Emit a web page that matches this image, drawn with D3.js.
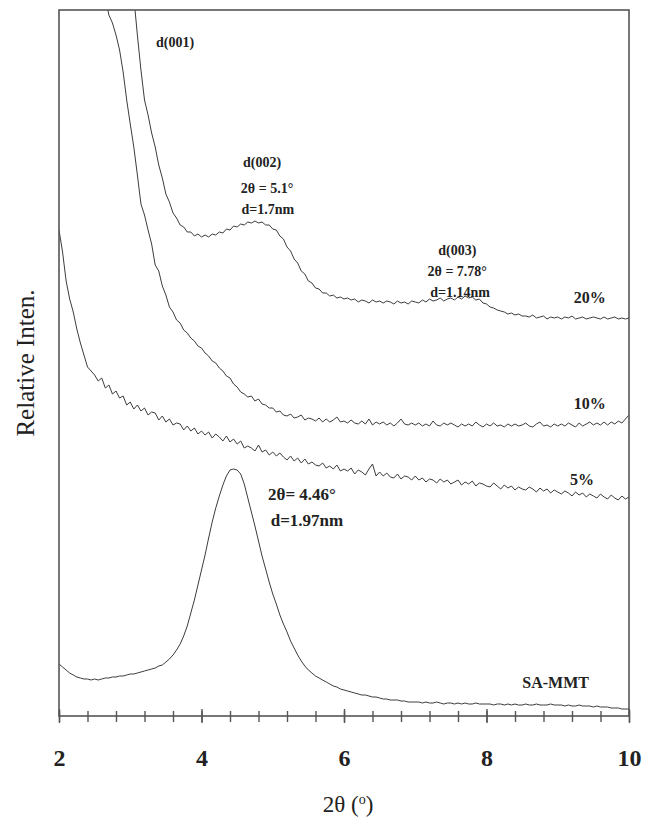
<!DOCTYPE html>
<html>
<head>
<meta charset="utf-8">
<script src="https://cdn.jsdelivr.net/npm/d3@7"></script>
<style>
    body { margin: 0; background: #fff; }
    svg { display: block; }
    .frame { fill: none; stroke: #555; stroke-width: 1.6; }
    .trace { fill: none; stroke: #3c3c3c; stroke-width: 1; stroke-linejoin: round; }
    .axis path { display: none; }
    .axis line { stroke: #555; stroke-width: 1.4; }
    .axis text { font-family: "Liberation Serif", "Times New Roman", serif; font-weight: bold; font-size: 24px; fill: #222; }
    .note { font-family: "Liberation Serif", "Times New Roman", serif; font-weight: bold; fill: #222; }
    .title { font-family: "Liberation Serif", "Times New Roman", serif; fill: #222; }
</style>
</head>
<body>
<div id="chart"></div>
<script>
// XRD scans, 2theta 2-10 deg, step 0.05 (161 points each), intensity in arbitrary units
var twoTheta = d3.range(161).map(function (i) { return 2 + i * 0.05; });

var saMmt = [
    50, 47, 44, 41, 39, 37, 36, 35, 35, 34, 35, 34, 35, 36, 36, 37, 37, 38, 38, 39, 40,
    40, 41, 42, 43, 44, 45, 46, 48, 49, 52,
    55, 59, 64, 70, 78, 88, 101, 114, 129, 144,
    159, 176, 192, 206, 218, 229, 238, 244, 245, 244,
    240, 230, 216, 202, 188, 173, 158, 145, 132, 120,
    110, 99, 90, 82, 73, 66, 59, 53, 48, 44,
    41, 38, 36, 34, 32, 30, 28, 27, 25, 24,
    23, 22, 21, 20, 19, 19, 18, 17, 17, 16,
    15, 15, 14, 14, 14, 13, 13, 12, 12, 12,
    12, 11, 12, 11, 11, 12, 11, 10, 11, 11,
    10, 11, 10, 11, 10, 10, 11, 10, 10, 10,
    10, 9, 10, 10, 9, 10, 9, 10, 9, 9,
    10, 9, 9, 10, 9, 9, 9, 10, 9, 9,
    9, 8, 9, 8, 8, 9, 8, 8, 8, 7,
    8, 7, 7, 7, 6, 6, 6, 5, 5, 5
];

var clay5 = [
    484, 462, 433, 415, 402, 385, 371, 359, 347, 343, 339, 333, 336, 326, 329, 320, 323, 316, 318, 309, 312,
    305, 309, 303, 306, 299, 302, 301, 294, 298, 292,
    295, 289, 291, 290, 284, 288, 283, 286, 280, 283,
    279, 282, 276, 280, 277, 273, 278, 272, 275, 270,
    273, 266, 268, 266, 263, 269, 262, 264, 259, 262,
    258, 261, 257, 254, 258, 253, 256, 251, 255, 250,
    252, 249, 248, 251, 246, 248, 245, 249, 243, 245,
    243, 246, 240, 244, 242, 239, 245, 250, 238, 242,
    238, 241, 237, 236, 240, 235, 238, 237, 234, 238,
    234, 236, 232, 235, 234, 231, 235, 232, 234, 230,
    232, 234, 229, 232, 230, 233, 228, 231, 230, 228,
    227, 231, 228, 225, 229, 226, 228, 224, 227, 225,
    224, 227, 225, 222, 226, 223, 225, 221, 224, 222,
    220, 223, 221, 218, 222, 219, 221, 217, 220, 218,
    216, 220, 217, 215, 219, 216, 214, 218, 215, 217
];

var clay10 = [
    1150, 1100, 1050, 1005, 960, 920, 880, 845, 810, 785, 760, 745, 728, 717, 699, 691, 679, 664, 642, 614, 590,
    567, 539, 510, 499, 484, 470, 449, 443, 428, 419,
    407, 402, 394, 391, 384, 381, 376, 373, 368, 366,
    361, 358, 353, 351, 346, 343, 338, 336, 330, 327,
    322, 320, 317, 318, 313, 315, 310, 309, 306, 306,
    302, 303, 299, 298, 300, 296, 297, 299, 294, 296,
    295, 293, 296, 292, 295, 292, 294, 297, 292, 293,
    291, 294, 291, 290, 293, 290, 295, 289, 292, 290,
    292, 289, 291, 288, 291, 295, 290, 289, 291, 289,
    291, 288, 290, 288, 293, 289, 288, 291, 289, 291,
    289, 287, 290, 288, 290, 288, 292, 289, 287, 290,
    288, 291, 288, 289, 287, 290, 288, 290, 288, 289,
    291, 288, 287, 290, 292, 288, 289, 287, 290, 288,
    290, 288, 291, 289, 287, 291, 288, 290, 292, 289,
    291, 289, 292, 289, 292, 290, 293, 291, 295, 299
];

var clay20 = [
    1500, 1470, 1440, 1410, 1380, 1350, 1320, 1290, 1260, 1230, 1200, 1165, 1130, 1095, 1060, 1020, 980, 930, 880, 828, 772,
    717, 679, 644, 614, 599, 581, 567, 549, 536, 520,
    512, 501, 496, 489, 487, 482, 482, 478, 480, 477,
    479, 477, 480, 479, 482, 481, 485, 484, 488, 487,
    490, 489, 492, 491, 493, 491, 492, 489, 489, 485,
    484, 478, 475, 467, 463, 455, 451, 443, 440, 433,
    431, 426, 425, 421, 421, 418, 419, 416, 417, 415,
    416, 414, 415, 412, 414, 413, 411, 414, 412, 413,
    411, 413, 412, 410, 413, 411, 412, 410, 413, 412,
    411, 414, 412, 415, 413, 414, 416, 413, 415, 416,
    414, 417, 415, 418, 416, 417, 414, 415, 411, 410,
    407, 406, 404, 403, 402, 400, 401, 399, 400, 398,
    398, 397, 399, 396, 397, 398, 395, 397, 396, 397,
    395, 397, 396, 398, 395, 396, 397, 395, 396, 397,
    396, 395, 397, 395, 396, 397, 395, 396, 395, 396
];

var majorTicks = [2, 4, 6, 8, 10];
var minorTicks = d3.range(2, 10.01, 0.4);

var w = 648, h = 825,
    margin = {top: 10, right: 19, bottom: 109, left: 59},
    width = w - margin.left - margin.right,
    height = h - margin.top - margin.bottom;

var svg = d3.select("#chart").append("svg")
    .attr("width", w)
    .attr("height", h);

var g = svg.append("g").attr("transform", "translate(" + margin.left + "," + margin.top + ")");

var x = d3.scaleLinear()
    .domain([2, 10])
    .range([0, width]);
var y = d3.scaleLinear()
    .domain([-2, 704])
    .range([height, 0]);

g.append("defs").append("clipPath")
    .attr("id", "clip")
    .append("rect")
    .attr("width", width)
    .attr("height", height);

var line = d3.line()
    .x(function (d, i) { return x(twoTheta[i]); })
    .y(function (d) { return y(d); });

[saMmt, clay5, clay10, clay20].forEach(function (series) {
    g.append("path")
        .datum(series)
        .attr("class", "trace")
        .attr("clip-path", "url(#clip)")
        .attr("d", line);
});

g.append("rect")
    .attr("class", "frame")
    .attr("width", width)
    .attr("height", height);

// ticks cross the bottom axis line
var minorAxis = g.append("g")
    .attr("class", "axis")
    .attr("transform", "translate(0," + height + ")")
    .call(d3.axisBottom(x).tickValues(minorTicks).tickSize(6).tickFormat(""));
minorAxis.selectAll("line").attr("y1", -5);

var majorAxis = g.append("g")
    .attr("class", "axis")
    .attr("transform", "translate(0," + height + ")")
    .call(d3.axisBottom(x).tickValues(majorTicks).tickSize(7).tickPadding(26).tickFormat(d3.format("d")));
majorAxis.selectAll("line").attr("y1", -7);

var xTitle = svg.append("text")
    .attr("class", "title")
    .style("font-size", "23px")
    .attr("x", margin.left + width / 2 + 4)
    .attr("y", 812)
    .attr("text-anchor", "middle");
xTitle.append("tspan").text("2θ (");
xTitle.append("tspan").style("font-size", "14px").attr("dy", "-8").text("o");
xTitle.append("tspan").attr("dy", "8").text(")");

svg.append("text")
    .attr("class", "title")
    .style("font-size", "25px")
    .attr("transform", "translate(34," + (margin.top + 353) + ") rotate(-90)")
    .attr("text-anchor", "middle")
    .text("Relative Inten.");

function note(text, t, v, size) {
    g.append("text")
        .attr("class", "note")
        .attr("x", x(t))
        .attr("y", y(v))
        .attr("dy", "0.35em")
        .attr("text-anchor", "middle")
        .style("font-size", size + "px")
        .text(text);
}

note("d(001)", 3.63, 672, 14);
note("d(002)", 4.85, 552, 14);
note("2θ = 5.1°", 4.92, 526, 14);
note("d=1.7nm", 4.93, 505, 14);
note("d(003)", 7.59, 464, 14);
note("2θ = 7.78°", 7.59, 443, 14);
note("d=1.14nm", 7.63, 422, 14);
note("20%", 9.45, 417, 16);
note("10%", 9.45, 311, 16);
note("5%", 9.34, 235, 16);
note("SA-MMT", 8.97, 32, 16);
note("2θ= 4.46°", 5.41, 220, 17);
note("d=1.97nm", 5.48, 194, 17);
</script>
</body>
</html>
